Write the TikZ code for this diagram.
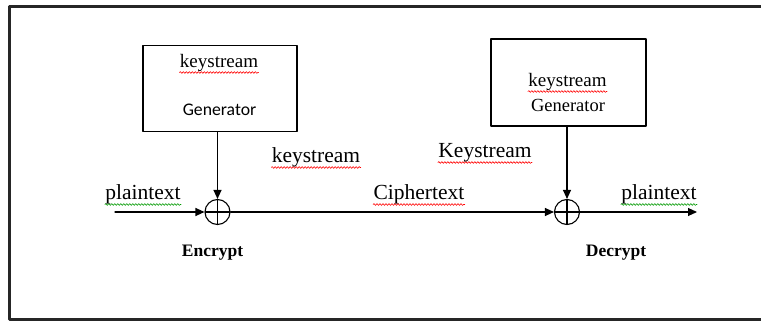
\documentclass[tikz,border=0pt]{standalone}
\usepackage{fontspec}
\setmainfont{Liberation Serif}
\newfontfamily\genfont{Carlito}
\usetikzlibrary{arrows.meta,decorations.pathmorphing}

\begin{document}
\begin{tikzpicture}[x=1pt,y=-1pt,line join=round,line cap=round,>={Triangle[length=9pt,width=8pt]},line width=1.1pt]
	\tikzset{every node/.style={inner sep=0pt},
		big/.style={font=\fontsize{21.5}{24}\selectfont,anchor=base},
		small/.style={font=\fontsize{19}{22}\selectfont,anchor=base},
		gen/.style={draw,minimum width=154pt,minimum height=86pt},
		xor/.style={draw,circle,minimum size=25pt,
			path picture={\draw (path picture bounding box.north)--(path picture bounding box.south)
				(path picture bounding box.west)--(path picture bounding box.east);}},
		wave/.style={draw=#1,line width=0.6pt,decorate,decoration={snake,amplitude=0.9pt,segment length=3pt}}}
	\useasboundingbox (0,0) rectangle (761,323);
	% frame
	\draw[line width=3pt,black!85,line cap=butt] (762,6.5)--(9.5,6.5)--(9.5,319.5)--(762,319.5);
	% generators
	\node[gen] (genA) at (220,88.5) {};
	\node[gen,minimum height=87pt,minimum width=155pt] (genB) at (568.5,82.5) {};
	\node[small] (ksA) at (219,68) {keystream};
	\node[anchor=base,font=\genfont\fontsize{17.7}{20}\selectfont] (gtA) at (219.5,116) {Generator};
	\node[small] (ksB) at (567.5,87) {keystream};
	\node[anchor=base,font=\fontsize{18.5}{21}\selectfont] (gtB) at (568,112) {Generator};
	% xor
	\node[xor] (xorA) at (217.5,212) {};
	\node[xor] (xorB) at (567,212) {};
	\coordinate (in) at (115,212);
	\coordinate (out) at (697,212);
	\draw[->] (genA.south -| xorA) -- (xorA.north);
	\draw[->] (genB.south -| xorB) -- (xorB.north);
	\draw[->] (in) -- (xorA.west);
	\draw[->] (xorA.east) -- (xorB.west);
	\draw[->] (xorB.east) -- (out);
	% labels
	\node[big] (ptA) at (143,200) {plaintext};
	\node[big] (ct) at (419,200) {Ciphertext};
	\node[big] (ptB) at (659,200) {plaintext};
	\node[big] (ksC) at (316,163) {keystream};
	\node[big] (ksD) at (485,158) {Keystream};
	\node[anchor=base,font=\bfseries\fontsize{17.5}{20}\selectfont] (enc) at (212.5,257) {Encrypt};
	\node[anchor=base,font=\bfseries\fontsize{17.5}{20}\selectfont] (dec) at (616,257) {Decrypt};
	% spelling marks
	\foreach \n/\c in {ksA/red,ksB/red,ksC/red,ksD/red,ct/red,ptA/green!60!black,ptB/green!60!black}
		\draw[wave=\c] ([yshift=-4.5pt]\n.base west) -- ([yshift=-4.5pt]\n.base east);
\end{tikzpicture}
\end{document}
